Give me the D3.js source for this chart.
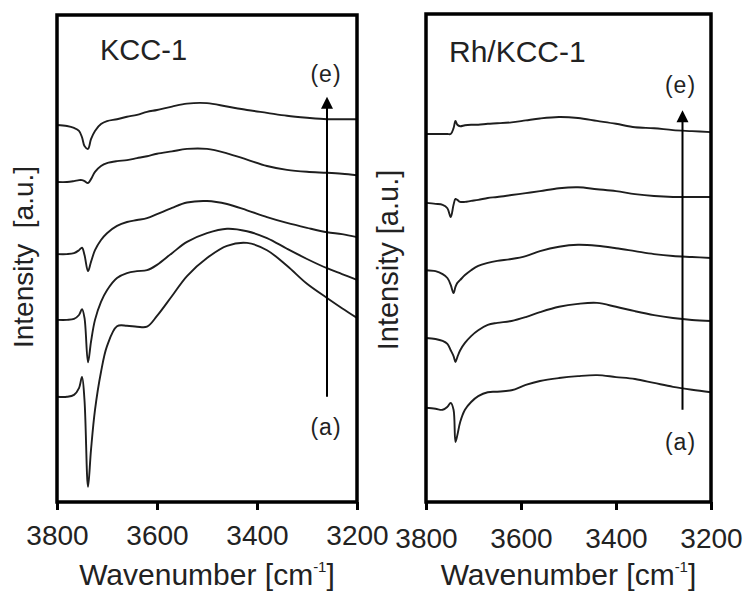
<!DOCTYPE html>
<html>
<head>
<meta charset="utf-8">
<script src="https://cdn.jsdelivr.net/npm/d3@7/dist/d3.min.js"></script>
<style>
  body { margin: 0; background: #fff; }
  svg { font-family: Arial, "Liberation Sans", sans-serif; }
  text { fill: #222; }
</style>
</head>
<body>
<svg id="chart" width="748" height="594"></svg>
<script>
// wavenumber grids (cm-1) for each panel
const kccWavenumbers = [3800, 3780, 3766, 3756, 3750, 3745, 3738, 3732, 3724, 3712, 3700, 3680, 3660, 3640, 3620, 3600, 3570, 3540, 3500, 3460, 3420, 3380, 3340, 3300, 3260, 3230, 3200];
const rhWavenumbers = [3800, 3780, 3765, 3755, 3748, 3742, 3738, 3734, 3728, 3718, 3705, 3690, 3670, 3650, 3620, 3590, 3560, 3520, 3480, 3440, 3400, 3360, 3320, 3280, 3240, 3200];

// KCC-1 spectra (a.u., stacked), (a) bottom -> (e) top
const kccA = [21.6, 21.6, 22.0, 23.4, 25.7, 20.9, 3.1, 10.7, 18.9, 26.7, 32.0, 36.1, 36.2, 36.0, 36.0, 38.2, 42.3, 46.4, 50.1, 52.6, 53.2, 51.7, 48.5, 44.8, 41.9, 39.8, 37.8];
const kccB = [37.4, 37.4, 37.6, 38.4, 39.6, 37.8, 28.7, 32.9, 37.4, 41.1, 43.5, 46.0, 47.0, 47.4, 47.6, 48.7, 51.1, 53.4, 55.2, 56.1, 55.6, 54.2, 52.0, 49.9, 48.0, 46.8, 45.6];
const kccC = [50.9, 50.9, 51.1, 51.7, 52.2, 50.7, 47.4, 49.3, 51.7, 53.8, 55.2, 56.7, 57.5, 57.9, 58.3, 59.1, 60.4, 61.5, 61.8, 61.2, 59.9, 58.5, 57.3, 56.3, 55.4, 55.0, 54.4];
const kccD = [65.7, 65.7, 65.9, 66.1, 66.1, 65.9, 65.5, 66.3, 67.8, 69.0, 69.6, 70.0, 70.2, 70.6, 71.0, 71.5, 72.0, 72.5, 72.5, 71.6, 70.3, 69.0, 68.2, 67.8, 67.6, 67.4, 67.1];
const kccE = [77.4, 77.2, 76.8, 76.2, 74.9, 73.1, 72.5, 74.5, 76.2, 77.6, 78.2, 78.6, 79.1, 79.5, 80.1, 80.5, 81.2, 81.8, 81.9, 81.2, 80.5, 79.9, 79.3, 78.9, 78.6, 78.6, 78.6];

// Rh/KCC-1 spectra
const rhA = [19.3, 19.1, 18.9, 19.5, 20.3, 18.9, 12.3, 13.7, 16.4, 18.9, 20.5, 21.7, 22.5, 22.6, 22.9, 24.0, 24.8, 25.4, 25.8, 26.0, 25.6, 25.2, 24.4, 23.6, 23.0, 22.5];
const rhB = [33.6, 33.4, 33.0, 32.4, 31.1, 29.9, 28.7, 29.7, 31.1, 32.6, 34.0, 35.2, 36.3, 36.7, 37.1, 37.9, 38.9, 40.0, 40.6, 40.8, 40.0, 39.1, 38.3, 37.7, 37.3, 37.1];
const rhC = [47.5, 47.3, 46.7, 45.9, 44.5, 42.8, 44.1, 44.9, 45.5, 46.5, 47.5, 48.4, 49.0, 49.4, 49.8, 50.4, 51.4, 52.3, 52.7, 52.5, 52.0, 51.4, 50.8, 50.4, 50.2, 50.0];
const rhD = [61.3, 61.1, 60.9, 60.2, 58.4, 60.9, 62.1, 61.9, 61.5, 61.5, 61.7, 61.9, 62.3, 62.5, 62.9, 63.3, 63.7, 64.3, 64.5, 64.1, 63.7, 63.1, 62.7, 62.5, 62.5, 62.5];
const rhE = [75.4, 75.4, 75.4, 75.4, 75.4, 76.6, 78.1, 77.3, 77.0, 77.2, 77.3, 77.3, 77.5, 77.6, 77.8, 78.2, 78.6, 78.9, 78.7, 78.1, 77.5, 76.8, 76.6, 76.2, 76.0, 75.8];

const xTicks = [3800, 3600, 3400, 3200];
const panelTitles = ['KCC-1', 'Rh/KCC-1'];
const yTitles = ['Intensity  [a.u.]', 'Intensity [a.u.]'];

// arrow (a) -> (e): wavenumber, [bottom, tip] in a.u., label positions in a.u.
const arrowWn = 3260;
const kccArrow = [21.6, 83.2];
const rhArrow = [18.9, 80.3];
const kccArrowLabels = [13.8, 86.2];
const rhArrowLabels = [10.7, 83.8];

const svg = d3.select('#chart');

const panels = [
  { left: 57, right: 357, top: 15, bottom: 502, wn: kccWavenumbers, series: [kccA, kccB, kccC, kccD, kccE],
    title: panelTitles[0], titleSize: 29, titleX: 100, titleY: 60, yTitle: yTitles[0], yTitleSize: 28, yTitleX: 33, yTitleY: 257,
    arrow: kccArrow, arrowLabels: kccArrowLabels, labelShift: -1, tickPad: 15 },
  { left: 426, right: 711, top: 14, bottom: 502, wn: rhWavenumbers, series: [rhA, rhB, rhC, rhD, rhE],
    title: panelTitles[1], titleSize: 30, titleX: 449, titleY: 62, yTitle: yTitles[1], yTitleSize: 29, yTitleX: 398, yTitleY: 260,
    arrow: rhArrow, arrowLabels: rhArrowLabels, labelShift: -2, tickPad: 18 }
];

function drawPanel(p) {
  const g = svg.append('g');
  const x = d3.scaleLinear().domain([3800, 3200]).range([p.left, p.right]);
  const y = d3.scaleLinear().domain([0, 100]).range([p.bottom, p.top]);

  const line = d3.line()
    .x((d, i) => x(p.wn[i]))
    .y(d => y(d))
    .curve(d3.curveCatmullRom.alpha(0.5));

  g.selectAll('path.spec')
    .data(p.series)
    .join('path')
    .attr('class', 'spec')
    .attr('d', line)
    .attr('fill', 'none')
    .attr('stroke', '#1e1e1e')
    .attr('stroke-width', 1.9)
    .attr('stroke-linejoin', 'round');

  // frame
  g.append('rect')
    .attr('x', p.left).attr('y', p.top)
    .attr('width', p.right - p.left).attr('height', p.bottom - p.top)
    .attr('fill', 'none').attr('stroke', '#000').attr('stroke-width', 3.5);

  // bottom axis
  const axis = g.append('g')
    .attr('transform', `translate(0,${p.bottom})`)
    .call(d3.axisBottom(x).tickValues(xTicks).tickSize(8).tickPadding(p.tickPad).tickFormat(d3.format('d')));
  axis.select('.domain').remove();
  axis.selectAll('.tick line').attr('stroke', '#000').attr('stroke-width', 3);
  axis.selectAll('.tick text')
    .attr('font-size', 28)
    .attr('font-family', 'Arial, "Liberation Sans", sans-serif')
    .attr('fill', '#222');

  // x title
  const xt = g.append('text')
    .attr('x', (p.left + p.right) / 2).attr('y', 585)
    .attr('text-anchor', 'middle')
    .attr('font-size', 30);
  xt.append('tspan').text('Wavenumber [cm');
  xt.append('tspan').attr('font-size', 15).attr('dy', -13).text('-1');
  xt.append('tspan').attr('dy', 13).text(']');

  // y title
  g.append('text')
    .attr('transform', `translate(${p.yTitleX},${p.yTitleY}) rotate(-90)`)
    .attr('text-anchor', 'middle')
    .attr('font-size', p.yTitleSize)
    .style('white-space', 'pre')
    .text(p.yTitle);

  // panel title
  g.append('text')
    .attr('x', p.titleX).attr('y', p.titleY)
    .attr('font-size', p.titleSize)
    .text(p.title);

  // arrow
  const ax = x(arrowWn);
  const yTip = y(p.arrow[1]);
  g.append('line')
    .attr('x1', ax).attr('x2', ax)
    .attr('y1', y(p.arrow[0])).attr('y2', yTip + 8)
    .attr('stroke', '#000').attr('stroke-width', 2);
  g.append('path')
    .attr('d', `M${ax},${yTip} L${ax - 6},${yTip + 12} L${ax + 6},${yTip + 12} Z`)
    .attr('fill', '#000');

  g.selectAll('text.lbl')
    .data(['(a)', '(e)'])
    .join('text')
    .attr('class', 'lbl')
    .attr('x', ax + p.labelShift)
    .attr('y', (d, i) => y(p.arrowLabels[i]))
    .attr('text-anchor', 'middle')
    .attr('font-size', 23)
    .attr('letter-spacing', 1)
    .text(d => d);
}

panels.forEach(drawPanel);
</script>
</body>
</html>
